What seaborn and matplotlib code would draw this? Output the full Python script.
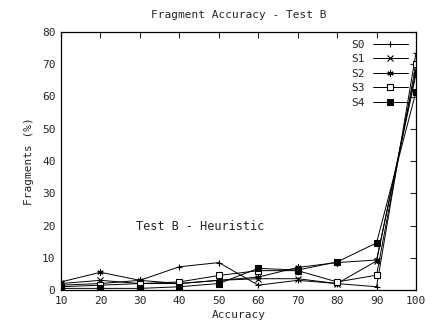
import matplotlib
matplotlib.use("Agg")
import matplotlib.pyplot as plt
import seaborn as sns
import pandas as pd

accuracy = [10, 20, 30, 40, 50, 60, 70, 80, 90, 100]
s0 = [1.5, 2.0, 3.0, 7.2, 8.5, 1.5, 3.0, 2.0, 1.0, 73.5]
s1 = [2.0, 3.0, 2.0, 2.0, 3.0, 3.5, 3.5, 2.0, 9.0, 68.0]
s2 = [2.5, 5.5, 3.0, 2.0, 3.0, 4.0, 7.0, 8.5, 9.3, 67.0]
s3 = [1.0, 1.5, 2.0, 2.5, 4.5, 6.0, 6.0, 2.5, 4.6, 70.0]
s4 = [0.5, 0.5, 0.5, 1.0, 2.0, 6.7, 6.2, 8.7, 14.6, 61.5]
series_names = ["S0", "S1", "S2", "S3", "S4"]
series_values = [s0, s1, s2, s3, s4]

title = "Fragment Accuracy - Test B"
annotation = "Test B - Heuristic"

sns.set_style("white")
plt.rcParams["font.family"] = ["DejaVu Sans Mono"]

fig = plt.figure(figsize=(4.37, 3.33), dpi=100)
ax = fig.add_axes([61/437, 43/333, (416-61)/437, (290-32)/333])

markers = ["+", "x", (6, 2, 0), "s", "s"]
faces = ["black", "black", "black", "white", "black"]
for name, vals, m, fc in zip(series_names, series_values, markers, faces):
    df = pd.DataFrame({"Accuracy": accuracy, "Fragments": vals})
    sns.lineplot(data=df, x="Accuracy", y="Fragments", ax=ax, color="black",
                 linewidth=0.7, marker=m, markersize=4.5, markerfacecolor=fc,
                 markeredgecolor="black", markeredgewidth=0.8, label=name)

ax.set_xlim(10, 100)
ax.set_ylim(0, 80)
ax.set_xticks(range(10, 101, 10))
ax.set_yticks(range(0, 81, 10))
ax.tick_params(direction="in", length=4, width=0.8, top=True, right=True,
               labelsize=8, pad=4)
for sp in ax.spines.values():
    sp.set_linewidth(0.9)
    sp.set_color("black")
ax.set_xlabel("Accuracy", fontsize=8, labelpad=3)
ax.set_ylabel("Fragments (%)", fontsize=8, labelpad=6)
ax.set_title(title, fontsize=8, pad=10)
ax.text(45.3, 19.8, annotation, fontsize=8.5, ha="center", va="center")

leg = ax.legend(loc="upper right", frameon=False, markerfirst=False,
                fontsize=8, handlelength=3.2, labelspacing=0.4,
                borderaxespad=0.3, handletextpad=0.7)

fig.savefig("out.png", dpi=100)
